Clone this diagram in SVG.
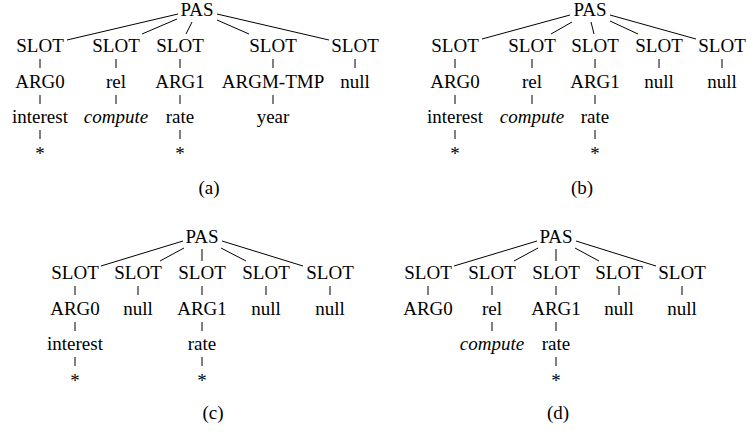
<svg xmlns="http://www.w3.org/2000/svg" width="746" height="434" viewBox="0 0 746 434" font-family="Liberation Serif">
  <style>
    svg text { font-family: "Liberation Serif", serif !important; font-size: 19px; text-anchor: middle; fill: #000; }
    svg text.i { font-style: italic; }
    .e { stroke: #000; stroke-width: 1; fill: none; }
  </style>
  <rect width="746" height="434" fill="#fff"/>

  <!-- Tree (a) -->
  <g id="tree-a" font-family="Liberation Serif">
    <g id="a-pas"><text font-family="Liberation Serif" x="197" y="16">PAS</text></g>
    <g id="a-slot1"><text font-family="Liberation Serif" x="40" y="52">SLOT</text></g>
    <g id="a-slot2"><text font-family="Liberation Serif" x="116" y="52">SLOT</text></g>
    <g id="a-slot3"><text font-family="Liberation Serif" x="180" y="52">SLOT</text></g>
    <g id="a-slot4"><text font-family="Liberation Serif" x="273" y="52">SLOT</text></g>
    <g id="a-slot5"><text font-family="Liberation Serif" x="355" y="52">SLOT</text></g>
    <g id="a-arg0"><text font-family="Liberation Serif" x="40" y="88">ARG0</text></g>
    <g id="a-rel"><text font-family="Liberation Serif" x="116" y="88">rel</text></g>
    <g id="a-arg1"><text font-family="Liberation Serif" x="180" y="88">ARG1</text></g>
    <g id="a-argm"><text font-family="Liberation Serif" x="273" y="88">ARGM-TMP</text></g>
    <g id="a-null5"><text font-family="Liberation Serif" x="355" y="88">null</text></g>
    <g id="a-interest"><text font-family="Liberation Serif" x="40" y="123">interest</text></g>
    <g id="a-compute"><text font-family="Liberation Serif" class="i" x="116" y="123">compute</text></g>
    <g id="a-rate"><text font-family="Liberation Serif" x="180" y="123">rate</text></g>
    <g id="a-year"><text font-family="Liberation Serif" x="273" y="123">year</text></g>
    <g id="a-star1"><text font-family="Liberation Serif" x="40" y="160">*</text></g>
    <g id="a-star3"><text font-family="Liberation Serif" x="180" y="160">*</text></g>
    <g id="a-label"><text font-family="Liberation Serif" x="209" y="194">(a)</text></g>
  </g>

  <!-- Tree (b) -->
  <g id="tree-b" font-family="Liberation Serif">
    <g id="b-pas"><text font-family="Liberation Serif" x="590" y="16">PAS</text></g>
    <g id="b-slot1"><text font-family="Liberation Serif" x="455" y="52">SLOT</text></g>
    <g id="b-slot2"><text font-family="Liberation Serif" x="532" y="52">SLOT</text></g>
    <g id="b-slot3"><text font-family="Liberation Serif" x="595" y="52">SLOT</text></g>
    <g id="b-slot4"><text font-family="Liberation Serif" x="659" y="52">SLOT</text></g>
    <g id="b-slot5"><text font-family="Liberation Serif" x="722" y="52">SLOT</text></g>
    <g id="b-arg0"><text font-family="Liberation Serif" x="455" y="88">ARG0</text></g>
    <g id="b-rel"><text font-family="Liberation Serif" x="532" y="88">rel</text></g>
    <g id="b-arg1"><text font-family="Liberation Serif" x="595" y="88">ARG1</text></g>
    <g id="b-null4"><text font-family="Liberation Serif" x="659" y="88">null</text></g>
    <g id="b-null5"><text font-family="Liberation Serif" x="722" y="88">null</text></g>
    <g id="b-interest"><text font-family="Liberation Serif" x="455" y="123">interest</text></g>
    <g id="b-compute"><text font-family="Liberation Serif" class="i" x="532" y="123">compute</text></g>
    <g id="b-rate"><text font-family="Liberation Serif" x="595" y="123">rate</text></g>
    <g id="b-star1"><text font-family="Liberation Serif" x="455" y="160">*</text></g>
    <g id="b-star3"><text font-family="Liberation Serif" x="595" y="160">*</text></g>
    <g id="b-label"><text font-family="Liberation Serif" x="582" y="194">(b)</text></g>
  </g>

  <!-- Tree (c) -->
  <g id="tree-c" font-family="Liberation Serif">
    <g id="c-pas"><text font-family="Liberation Serif" x="202" y="243">PAS</text></g>
    <g id="c-slot1"><text font-family="Liberation Serif" x="75" y="279">SLOT</text></g>
    <g id="c-slot2"><text font-family="Liberation Serif" x="138" y="279">SLOT</text></g>
    <g id="c-slot3"><text font-family="Liberation Serif" x="202" y="279">SLOT</text></g>
    <g id="c-slot4"><text font-family="Liberation Serif" x="266" y="279">SLOT</text></g>
    <g id="c-slot5"><text font-family="Liberation Serif" x="330" y="279">SLOT</text></g>
    <g id="c-arg0"><text font-family="Liberation Serif" x="75" y="315">ARG0</text></g>
    <g id="c-null2"><text font-family="Liberation Serif" x="138" y="315">null</text></g>
    <g id="c-arg1"><text font-family="Liberation Serif" x="202" y="315">ARG1</text></g>
    <g id="c-null4"><text font-family="Liberation Serif" x="266" y="315">null</text></g>
    <g id="c-null5"><text font-family="Liberation Serif" x="330" y="315">null</text></g>
    <g id="c-interest"><text font-family="Liberation Serif" x="75" y="350">interest</text></g>
    <g id="c-rate"><text font-family="Liberation Serif" x="202" y="350">rate</text></g>
    <g id="c-star1"><text font-family="Liberation Serif" x="75" y="387">*</text></g>
    <g id="c-star3"><text font-family="Liberation Serif" x="202" y="387">*</text></g>
    <g id="c-label"><text font-family="Liberation Serif" x="213" y="419">(c)</text></g>
  </g>

  <!-- Tree (d) -->
  <g id="tree-d" font-family="Liberation Serif">
    <g id="d-pas"><text font-family="Liberation Serif" x="556" y="243">PAS</text></g>
    <g id="d-slot1"><text font-family="Liberation Serif" x="428" y="279">SLOT</text></g>
    <g id="d-slot2"><text font-family="Liberation Serif" x="492" y="279">SLOT</text></g>
    <g id="d-slot3"><text font-family="Liberation Serif" x="556" y="279">SLOT</text></g>
    <g id="d-slot4"><text font-family="Liberation Serif" x="619" y="279">SLOT</text></g>
    <g id="d-slot5"><text font-family="Liberation Serif" x="682" y="279">SLOT</text></g>
    <g id="d-arg0"><text font-family="Liberation Serif" x="428" y="315">ARG0</text></g>
    <g id="d-rel"><text font-family="Liberation Serif" x="492" y="315">rel</text></g>
    <g id="d-arg1"><text font-family="Liberation Serif" x="556" y="315">ARG1</text></g>
    <g id="d-null4"><text font-family="Liberation Serif" x="619" y="315">null</text></g>
    <g id="d-null5"><text font-family="Liberation Serif" x="682" y="315">null</text></g>
    <g id="d-compute"><text font-family="Liberation Serif" class="i" x="492" y="350">compute</text></g>
    <g id="d-rate"><text font-family="Liberation Serif" x="556" y="350">rate</text></g>
    <g id="d-star3"><text font-family="Liberation Serif" x="556" y="387">*</text></g>
    <g id="d-label"><text font-family="Liberation Serif" x="558" y="419">(d)</text></g>
  </g>

  <!-- Connectors -->
  <g id="edges" class="e">
    <!-- (a) PAS to slots -->
    <line x1="178" y1="14" x2="67" y2="40"/>
    <line x1="177" y1="19" x2="142" y2="34"/>
    <line x1="192" y1="22" x2="186" y2="34"/>
    <line x1="217" y1="20" x2="249" y2="34"/>
    <line x1="217" y1="14" x2="329" y2="40"/>
    <!-- (a) vertical links -->
    <path d="M40 59V68M116 59V68M180 59V68M273 59V68M355 59V68"/>
    <path d="M40 95V104M116 95V104M180 95V104M273 95V104"/>
    <path d="M40 130V139M180 130V139"/>

    <!-- (b) PAS to slots -->
    <line x1="570" y1="15" x2="482" y2="39"/>
    <line x1="572" y1="22" x2="551" y2="34"/>
    <line x1="591" y1="22" x2="594" y2="34"/>
    <line x1="610" y1="21" x2="638" y2="34"/>
    <line x1="610" y1="15" x2="696" y2="39"/>
    <!-- (b) vertical links -->
    <path d="M455 59V68M532 59V68M595 59V68M659 59V68M722 59V68"/>
    <path d="M455 95V104M532 95V104M595 95V104"/>
    <path d="M455 130V139M595 130V139"/>

    <!-- (c) PAS to slots -->
    <line x1="183" y1="241" x2="101" y2="266"/>
    <line x1="184" y1="248" x2="160" y2="261"/>
    <line x1="202" y1="249" x2="202" y2="261"/>
    <line x1="221" y1="248" x2="246" y2="261"/>
    <line x1="222" y1="241" x2="303" y2="266"/>
    <!-- (c) vertical links -->
    <path d="M75 286V295M138 286V295M202 286V295M266 286V295M330 286V295"/>
    <path d="M75 322V331M202 322V331"/>
    <path d="M75 357V366M202 357V366"/>

    <!-- (d) PAS to slots -->
    <line x1="537" y1="241" x2="454" y2="266"/>
    <line x1="538" y1="248" x2="514" y2="261"/>
    <line x1="556" y1="249" x2="556" y2="261"/>
    <line x1="575" y1="248" x2="599" y2="261"/>
    <line x1="576" y1="241" x2="656" y2="266"/>
    <!-- (d) vertical links -->
    <path d="M428 286V295M492 286V295M556 286V295M619 286V295M682 286V295"/>
    <path d="M492 322V331M556 322V331"/>
    <path d="M556 357V366"/>
  </g>
</svg>
